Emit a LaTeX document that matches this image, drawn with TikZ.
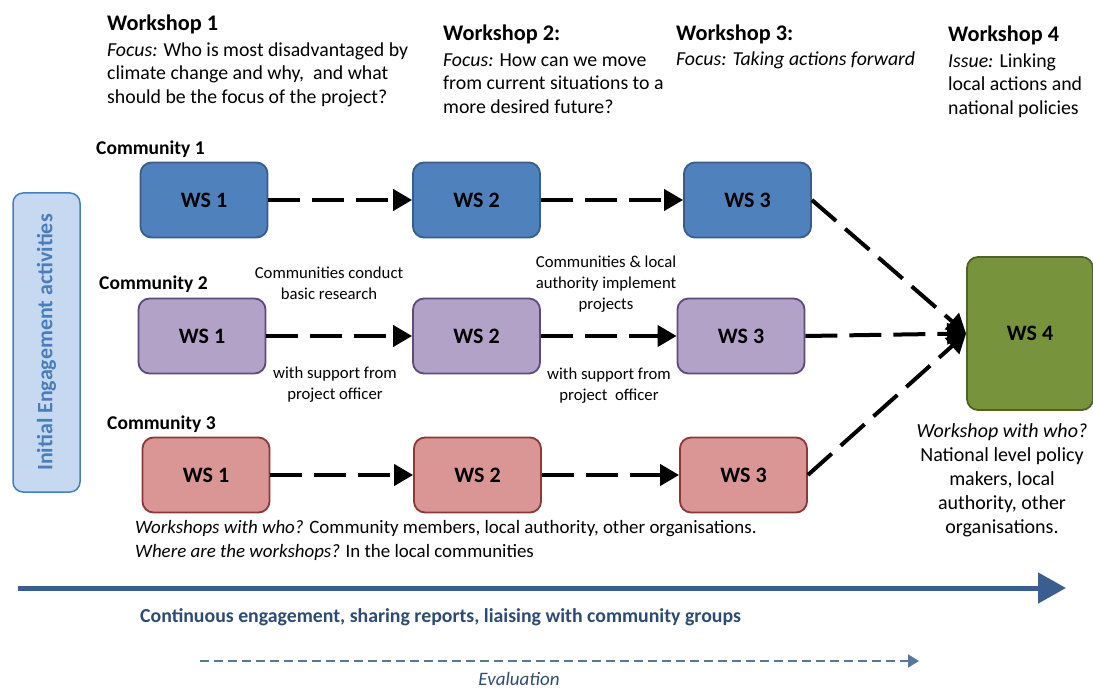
\documentclass[tikz,border=0pt]{standalone}
\usepackage{fontspec}
\setmainfont{Carlito}
\usetikzlibrary{arrows.meta}

\definecolor{wsblue}{HTML}{4F81BD}
\definecolor{wsblueline}{HTML}{385D8A}
\definecolor{wspurple}{HTML}{B3A2C7}
\definecolor{wspurpleline}{HTML}{604A7B}
\definecolor{wsred}{HTML}{D99694}
\definecolor{wsredline}{HTML}{8C3836}
\definecolor{wsgreen}{HTML}{77933C}
\definecolor{wsgreenline}{HTML}{4F6228}
\definecolor{iefill}{HTML}{C6D9F1}
\definecolor{ieline}{HTML}{4A7EBB}
\definecolor{timeline}{HTML}{3A5F8E}
\definecolor{timetext}{HTML}{2E4B74}

\begin{document}
\begin{tikzpicture}[x=1pt,y=-1pt,
  ws/.style={draw, line width=1.8pt, rounded corners=11pt, minimum width=127pt, minimum height=75pt, font=\fontsize{22}{26}\selectfont\bfseries},
  flow/.style={line width=4pt, dash pattern=on 32pt off 12pt, -{Triangle[length=19pt,width=21pt]}},
  head/.style={anchor=north west, inner sep=0pt, align=left, font=\fontsize{19.8}{23.5}\selectfont},
  comm/.style={anchor=west, inner sep=0pt, font=\fontsize{19.5}{22}\selectfont\bfseries},
  note/.style={inner sep=0pt, align=center, font=\fontsize{16.7}{21}\selectfont}]
\useasboundingbox (0,0) rectangle (1093,690);

% workshop focus texts
\node[head] (h1) at (107,14.5) {{\fontsize{22.3}{24}\selectfont\bfseries Workshop 1}\\[2.5pt]\textit{Focus:} Who is most disadvantaged by\\climate change and why,~ and what\\should be the focus of the project?};
\node[head] (h2) at (443,24.5) {{\fontsize{22.3}{24}\selectfont\bfseries Workshop 2:}\\[2.5pt]\textit{Focus:} How can we move\\from current situations to a\\more desired future?};
\node[head] (h3) at (676,24.5) {{\fontsize{22.3}{24}\selectfont\bfseries Workshop 3:}\\[1.5pt]\textit{Focus: Taking actions forward}};
\node[head] (h4) at (948,25.5) {{\fontsize{22.3}{24}\selectfont\bfseries Workshop 4}\\[2.5pt]\textit{Issue:} Linking\\local actions and\\national policies};

% initial engagement
\node[draw=ieline, fill=iefill, line width=1.5pt, rounded corners=10pt, rotate=90, minimum width=299pt, minimum height=67pt, text=ieline, font=\fontsize{22}{26}\selectfont\bfseries] (ie) at (46.5,342.5) {Initial Engagement activities};

% communities
\node[comm] (c1) at (96,149) {Community 1};
\node[comm] (c2) at (99,284) {Community 2};
\node[comm] (c3) at (107,424) {Community 3};

\node[ws, fill=wsblue, draw=wsblueline] (b1) at (204,200) {WS 1};
\node[ws, fill=wsblue, draw=wsblueline] (b2) at (476.5,200) {WS 2};
\node[ws, fill=wsblue, draw=wsblueline] (b3) at (747.5,200) {WS 3};

\node[ws, fill=wspurple, draw=wspurpleline] (p1) at (202,336) {WS 1};
\node[ws, fill=wspurple, draw=wspurpleline] (p2) at (476.5,336) {WS 2};
\node[ws, fill=wspurple, draw=wspurpleline] (p3) at (741,336) {WS 3};

\node[ws, fill=wsred, draw=wsredline] (r1) at (206,475) {WS 1};
\node[ws, fill=wsred, draw=wsredline] (r2) at (477.5,475) {WS 2};
\node[ws, fill=wsred, draw=wsredline] (r3) at (743.5,475) {WS 3};

\node[ws, fill=wsgreen, draw=wsgreenline, minimum width=126pt, minimum height=153pt] (g4) at (1030,333.5) {WS 4};

\draw[flow] (b1) -- (b2);
\draw[flow] (b2) -- (b3);
\draw[flow] (p1) -- (p2);
\draw[flow] (p2) -- (p3);
\draw[flow] (r1) -- (r2);
\draw[flow] (r2) -- (r3);
\draw[flow] (b3.east) -- (g4.west);
\draw[flow] (p3.east) -- (g4.west);
\draw[flow] (r3.east) -- (g4.west);

% notes on community 2
\node[note] (n1) at (329,283) {Communities conduct\\basic research};
\node[note] (n2) at (335,385) {with support from\\project officer};
\node[note] (n3) at (606,284) {Communities \& local\\authority implement\\projects};
\node[note] (n4) at (609,386) {with support from\\project~~officer};

\node[inner sep=0pt, align=center, font=\fontsize{20}{24}\selectfont] (who4) at (1002,480) {\textit{Workshop with who?}\\National level policy\\makers, local\\authority, other\\organisations.};

\node[anchor=north west, inner sep=0pt, align=left, font=\fontsize{18.9}{24}\selectfont] (who) at (135,520) {\textit{Workshops with who?} Community members, local authority, other organisations.\\\textit{Where are the workshops?} In the local communities};

% continuous engagement and evaluation
\coordinate (t0) at (18,588);
\coordinate (t1) at (1066,588);
\draw[timeline, line width=5pt, -{Triangle[length=28pt,width=30pt]}] (t0) -- (t1);
\node[anchor=west, inner sep=0pt, text=timetext, font=\fontsize{19.8}{22}\selectfont\bfseries] (cont) at (140,617) {Continuous engagement, sharing reports, liaising with community groups};

\coordinate (e0) at (200,661);
\coordinate (e1) at (919,661);
\draw[timeline!85!white, line width=2pt, dash pattern=on 9pt off 5pt, -{Triangle[length=11pt,width=13pt]}] (e0) -- (e1);
\node[anchor=base, inner sep=0pt, text=timetext, font=\fontsize{19}{22}\selectfont\itshape] (eval) at (519,685) {Evaluation};
\end{tikzpicture}
\end{document}
